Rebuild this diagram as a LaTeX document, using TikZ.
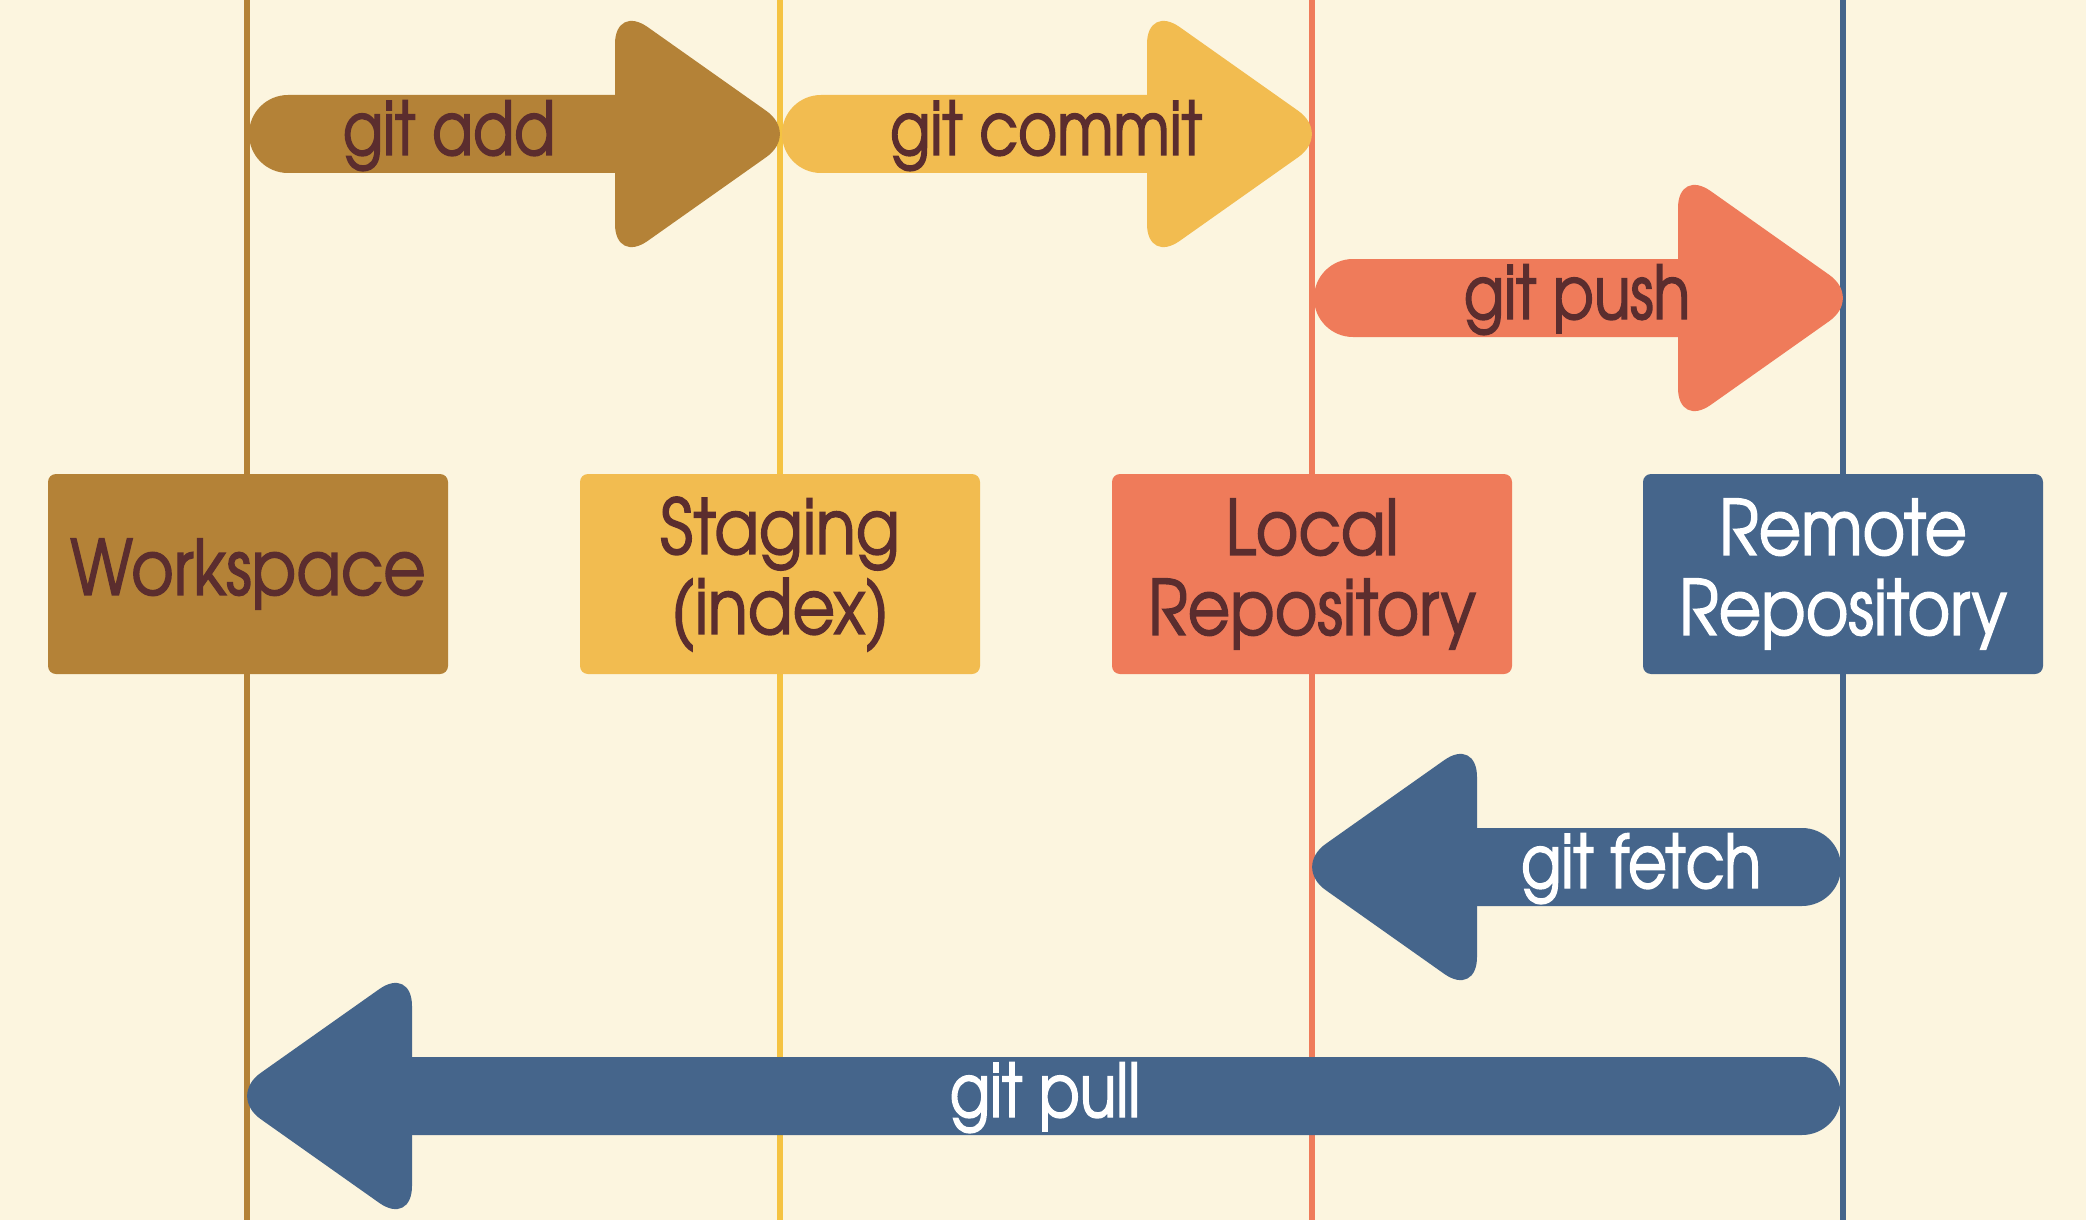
\documentclass[tikz,border=0pt]{standalone}
\usepackage{fontspec}
\newfontfamily\gf[FakeStretch=0.86,FakeBold=1.9]{texgyreadventor-regular.otf}
\newfontfamily\gfl[FakeStretch=0.81,FakeBold=1.9]{texgyreadventor-regular.otf}
\definecolor{bgc}{HTML}{FCF5DF}
\definecolor{cbrown}{HTML}{B48237}
\definecolor{cyellow}{HTML}{F2BC50}
\definecolor{lyellow}{HTML}{F5C342}
\definecolor{corange}{HTML}{EF7B5A}
\definecolor{cblue}{HTML}{45658B}
\definecolor{ctext}{HTML}{5B2D2E}
\tikzset{
  box/.style={minimum width=400pt, minimum height=200pt, rounded corners=8pt,
    inner sep=0pt, align=center, font=\gf\fontsize{76}{80}\selectfont},
  lbl/.style={anchor=base, inner sep=0pt, font=\gfl\fontsize{74}{80}\selectfont},
  vline/.style={line width=6pt}
}
\newcommand\gitRight[4]{%
  \fill[#4, rounded corners=39pt] (#1,#3-39) rectangle (#2+40,#3+39);
  \fill[#4, rounded corners=40pt] (#2,#3-130) -- (#2+184,#3) -- (#2,#3+130) -- cycle;
}
\newcommand\gitLeft[4]{%
  \fill[#4, rounded corners=39pt] (#2-40,#3-39) rectangle (#1,#3+39);
  \fill[#4, rounded corners=40pt] (#2,#3-130) -- (#2-184,#3) -- (#2,#3+130) -- cycle;
}
\begin{document}
\begin{tikzpicture}[x=1pt,y=-1pt]
\useasboundingbox (0,0) rectangle (2086,1220);
\fill[bgc] (0,0) rectangle (2086,1220);
% vertical lines
\draw[vline, cbrown] (247,0) -- (247,1220);
\draw[vline, lyellow] (780,0) -- (780,1220);
\draw[vline, corange] (1312,0) -- (1312,1220);
\draw[vline, cblue] (1843,0) -- (1843,1220);
% boxes
\node[box, fill=cbrown, text=ctext] (ws) at (248,574) {Workspace};
\node[box, fill=cyellow, text=ctext] (st) at (780,574) {Staging\\(index)};
\node[box, fill=corange, text=ctext] (lr) at (1312,574) {Local\\Repository};
\node[box, fill=cblue, text=white] (rr) at (1843,574) {Remote\\Repository};
% arrows
\gitRight{249}{615}{134}{cbrown}
\gitRight{782}{1147}{134}{cyellow}
\gitRight{1314}{1678}{298}{corange}
\gitLeft{1841}{1477}{867}{cblue}
\gitLeft{1841}{412}{1096}{cblue}
% labels
\node[lbl, text=ctext] (ladd) at (449,155) {git add};
\node[lbl, text=ctext] (lcommit) at (1046,155) {git commit};
\node[lbl, text=ctext] (lpush) at (1577,319) {git push};
\node[lbl, text=white] (lfetch) at (1641,888) {git fetch};
\node[lbl, text=white] (lpull) at (1045,1117) {git pull};
\end{tikzpicture}
\end{document}
